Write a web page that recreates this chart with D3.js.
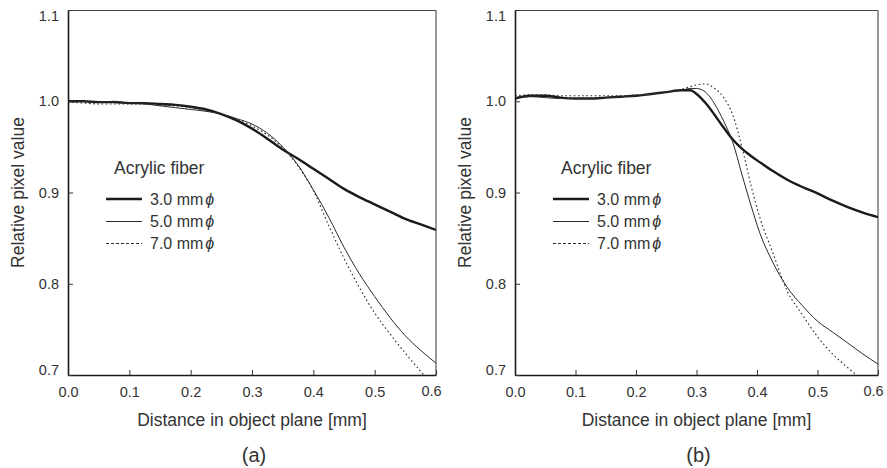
<!DOCTYPE html>
<html>
<head>
<meta charset="utf-8">
<script src="https://cdn.jsdelivr.net/npm/d3@7"></script>
<style>
  html, body { margin: 0; padding: 0; background: #fff; }
  svg { display: block; font-family: "Liberation Sans", Arial, sans-serif; }
</style>
</head>
<body>
<svg id="chart" width="887" height="468"></svg>
<script>
// ---------- data ----------
const leftX = [0,0.025,0.05,0.075,0.1,0.125,0.15,0.175,0.2,0.225,0.25,0.275,0.3,0.325,0.35,0.375,0.4,0.425,0.45,0.475,0.5,0.525,0.55,0.575,0.6];
const left30 = [1.000,1.000,0.999,0.999,0.998,0.998,0.997,0.996,0.994,0.991,0.986,0.979,0.970,0.959,0.947,0.937,0.926,0.915,0.904,0.895,0.887,0.879,0.871,0.865,0.859];
const left50 = [1.000,1.000,0.999,1.000,0.998,0.997,0.995,0.993,0.991,0.989,0.986,0.981,0.975,0.965,0.950,0.930,0.903,0.873,0.840,0.811,0.786,0.763,0.743,0.727,0.713];
const left70 = [0.999,0.998,0.997,0.997,0.997,0.997,0.996,0.995,0.993,0.990,0.986,0.980,0.973,0.963,0.949,0.929,0.902,0.864,0.828,0.796,0.768,0.745,0.724,0.704,0.686];

const rightX = [0,0.025,0.05,0.075,0.1,0.125,0.15,0.175,0.2,0.225,0.25,0.275,0.29,0.3,0.315,0.33,0.345,0.36,0.375,0.39,0.405,0.425,0.45,0.475,0.5,0.525,0.55,0.575,0.6];
const right30 = [1.003,1.006,1.006,1.004,1.003,1.003,1.004,1.005,1.006,1.008,1.010,1.012,1.012,1.008,0.998,0.985,0.971,0.958,0.948,0.940,0.933,0.924,0.914,0.906,0.899,0.891,0.884,0.878,0.873];
const right50 = [1.004,1.005,1.004,1.003,1.003,1.003,1.004,1.005,1.006,1.008,1.010,1.012,1.014,1.014,1.010,0.997,0.978,0.955,0.920,0.886,0.855,0.825,0.796,0.776,0.759,0.747,0.735,0.723,0.712];
const right70 = [1.006,1.007,1.007,1.006,1.006,1.006,1.006,1.006,1.007,1.008,1.010,1.013,1.016,1.018,1.019,1.014,1.004,0.985,0.950,0.908,0.872,0.836,0.792,0.766,0.742,0.723,0.708,0.694,0.680];

const xTicks = [0,0.1,0.2,0.3,0.4,0.5,0.6];
const yTicks = [0.7,0.8,0.9,1.0,1.1];
const seriesNames = ["3.0 mm", "5.0 mm", "7.0 mm"];
const legendTitle = "Acrylic fiber";
const xTitle = "Distance in object plane [mm]";
const yTitle = "Relative pixel value";
const panelLabels = ["(a)", "(b)"];

// ---------- layout ----------
const svg = d3.select("#chart");
const plotTop = 10, plotBottom = 375;
const panels = [
  { x0: 68,  x1: 436, xs: leftX,  ys: [left30, left50, left70],  label: panelLabels[0] },
  { x0: 515, x1: 878, xs: rightX, ys: [right30, right50, right70], label: panelLabels[1] }
];
const styles = [
  { w: 2.4, c: "#1a1a1a", dash: null,      legDash: null },
  { w: 1.0, c: "#2a2a2a", dash: null,      legDash: null },
  { w: 1.1, c: "#2a2a2a", dash: "1.6,2.6", legDash: "3,2" }
];
const textColor = "#333";

panels.forEach((p, pi) => {
  const x = d3.scaleLinear().domain([0, 0.6]).range([p.x0, p.x1]);
  const y = d3.scaleLinear().domain([0.7, 1.1]).range([plotBottom, plotTop]);
  const g = svg.append("g");

  const clipId = "clip" + pi;
  svg.append("clipPath").attr("id", clipId)
    .append("rect").attr("x", p.x0).attr("y", plotTop).attr("width", p.x1 - p.x0).attr("height", plotBottom - plotTop);

  // frame: top and right
  g.append("line").attr("x1", p.x0).attr("x2", p.x1).attr("y1", plotTop + 0.5).attr("y2", plotTop + 0.5)
    .attr("stroke", "#444").attr("stroke-width", 1);
  g.append("line").attr("x1", p.x1).attr("x2", p.x1).attr("y1", plotTop).attr("y2", plotBottom)
    .attr("stroke", "#777").attr("stroke-width", 1.5);

  // curves
  const line = d3.line().x(d => x(d[0])).y(d => y(d[1])).curve(d3.curveMonotoneX);
  p.ys.forEach((vals, si) => {
    const pts = p.xs.map((xv, i) => [xv, vals[i]]);
    const st = styles[si];
    g.append("path").datum(pts)
      .attr("clip-path", `url(#${clipId})`)
      .attr("d", line).attr("fill", "none")
      .attr("stroke", st.c).attr("stroke-width", st.w)
      .attr("stroke-dasharray", st.dash)
      .attr("stroke-linejoin", "round");
  });

  // x axis
  const xa = g.append("g").attr("transform", `translate(0,${plotBottom})`)
    .call(d3.axisBottom(x).tickValues(xTicks).tickFormat(d3.format(".1f")).tickSizeInner(-5).tickSizeOuter(0).tickPadding(12));
  xa.select(".domain").attr("stroke", "#1a1a1a").attr("stroke-width", 1.6);
  xa.selectAll(".tick line").attr("stroke", "#333");
  xa.selectAll(".tick text").attr("fill", textColor).style("font-size", "14.5px").style("font-family", "Liberation Sans, Arial, sans-serif")
    .attr("dx", d => d === 0.6 ? -5 : 0)
    .attr("y", d => d === 0.6 ? 11 : 12);

  // y axis
  const ya = g.append("g").attr("transform", `translate(${p.x0},0)`)
    .call(d3.axisLeft(y).tickValues(yTicks).tickFormat(d3.format(".1f")).tickSizeInner(-5).tickSizeOuter(0).tickPadding(9));
  ya.select(".domain").attr("stroke", "#1a1a1a").attr("stroke-width", 1.6);
  ya.selectAll(".tick line").attr("stroke", "#333");
  ya.selectAll(".tick text").attr("fill", textColor).style("font-size", "14.5px").style("font-family", "Liberation Sans, Arial, sans-serif")
    .attr("dy", d => d === 1.1 ? "0.75em" : (d === 0.7 ? "-0.05em" : "0.32em"));

  // axis titles
  g.append("text").attr("x", (p.x0 + p.x1) / 2).attr("y", 426)
    .attr("text-anchor", "middle").attr("fill", textColor).style("font-size", "17.5px").text(xTitle);
  g.append("text").attr("transform", `translate(${p.x0 - 44},${(plotTop + plotBottom) / 2}) rotate(-90)`)
    .attr("text-anchor", "middle").attr("fill", textColor).style("font-size", "17.5px").text(yTitle);
  g.append("text").attr("x", (p.x0 + p.x1) / 2 + 2).attr("y", 462)
    .attr("text-anchor", "middle").attr("fill", textColor).style("font-size", "20px").text(p.label);

  // legend
  const lg = g.append("g").attr("transform", `translate(${p.x0},0)`);
  lg.append("text").attr("x", 46).attr("y", 174).attr("fill", textColor).style("font-size", "17.5px").text(legendTitle);
  const rowY = [199, 221.5, 243.5];
  seriesNames.forEach((name, si) => {
    const st = styles[si];
    lg.append("line").attr("x1", 38).attr("x2", 74).attr("y1", rowY[si]).attr("y2", rowY[si])
      .attr("stroke", st.c).attr("stroke-width", si === 0 ? 2.6 : 1.1)
      .attr("stroke-dasharray", st.legDash);
    const t = lg.append("text").attr("x", 82).attr("y", rowY[si] + 5.5).attr("fill", textColor).style("font-size", "16px");
    t.append("tspan").text(name);
    t.append("tspan").attr("dx", 2).style("font-style", "italic").text("\u03D5");
  });
});
</script>
</body>
</html>
